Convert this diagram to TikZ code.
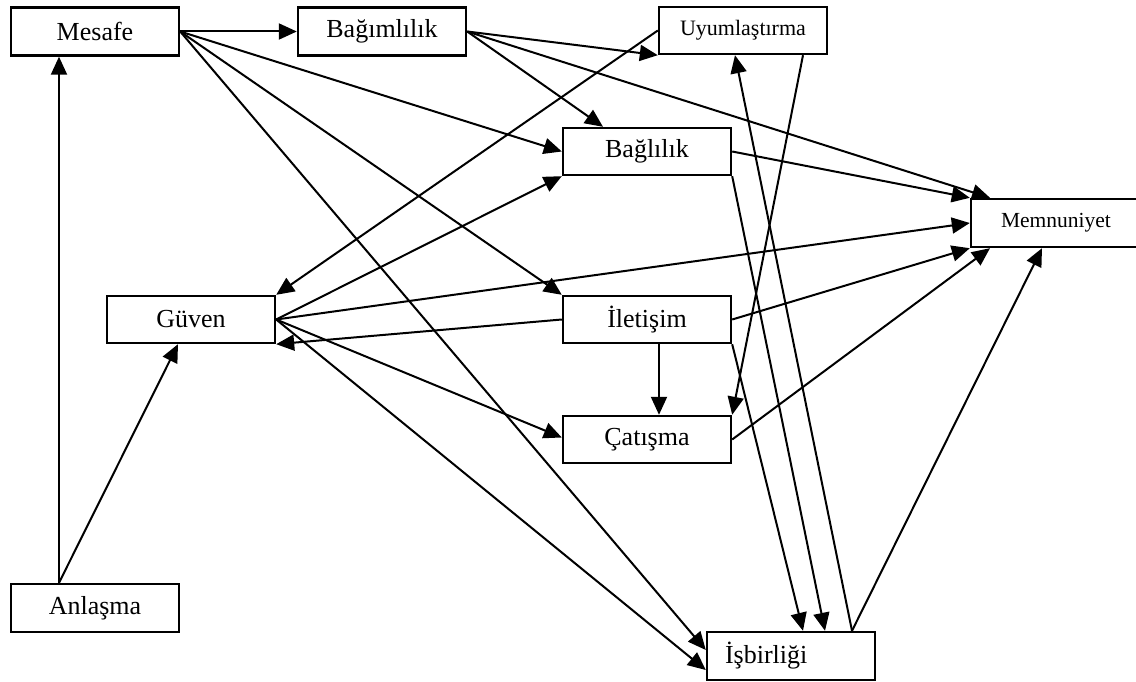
\documentclass[tikz,border=0pt]{standalone}
\usepackage{fontspec}
\setmainfont{Liberation Serif}
\usetikzlibrary{arrows.meta}
\begin{document}
\begin{tikzpicture}[x=1pt,y=-1pt,
  box/.style={draw, line width=2.4pt, inner sep=0pt, minimum width=168pt, minimum height=48pt,
    font=\fontsize{26}{30}\selectfont},
  smallbox/.style={box, font=\fontsize{22}{26}\selectfont},
  link/.style={line width=2pt, -{Triangle[length=18pt,width=16pt]}}
]
\useasboundingbox (0,0) rectangle (1136,682);

% concepts
\node[box] (mesafe)     at (95,31.5)   {Mesafe};
\node[box] (bagimlilik) at (382,31.5)  {Bağımlılık};
\node[smallbox, minimum height=47pt] (uyum) at (743,30.5) {Uyumlaştırma};
\node[box, minimum height=47pt] (baglilik) at (647,151.5) {Bağlılık};
\node[smallbox, minimum width=170pt, font=\fontsize{21.5}{26}\selectfont] (memnun) at (1056,223) {Memnuniyet};
\node[box, minimum height=47pt] (guven)    at (191,319.5) {Güven};
\node[box, minimum height=47pt] (iletisim) at (647,319.5) {İletişim};
\node[box, minimum height=47pt] (catisma)  at (647,439.5) {Çatışma};
\node[box] (anlasma)    at (95,608)    {Anlaşma};
\node[box, inner xsep=18pt, text width=132pt, align=left] (isbirligi) at (791,656) {İşbirliği};

% shared start points
\coordinate (anl) at ([xshift=-36pt]anlasma.north);
\coordinate (isb) at ([xshift=61pt]isbirligi.north);

% from Anlaşma
\draw[link] (anl) -- ([xshift=-36pt]mesafe.south);
\draw[link] (anl) -- ([xshift=-13pt]guven.south);

% from Mesafe
\draw[link] (mesafe.east) -- (bagimlilik.west);
\draw[link] (mesafe.east) -- (baglilik.west);
\draw[link] (mesafe.east) -- (iletisim.north west);
\draw[link] (mesafe.east) -- ([yshift=6pt]isbirligi.west);

% from Bağımlılık
\draw[link] (bagimlilik.east) -- (uyum.south west);
\draw[link] (bagimlilik.east) -- ([xshift=-44pt]baglilik.north);
\draw[link] (bagimlilik.east) -- ([xshift=-66pt]memnun.north);

% from Uyumlaştırma
\draw[link] (uyum.west) -- (guven.north east);
\draw[link] ([xshift=60pt]uyum.south) -- (catisma.north east);

% from Bağlılık
\draw[link] (baglilik.east) -- (memnun.north west);
\draw[link] (baglilik.south east) -- ([xshift=34pt]isbirligi.north);

% from Güven
\draw[link] (guven.east) -- (baglilik.south west);
\draw[link] (guven.east) -- (memnun.west);
\draw[link] (guven.east) -- ([yshift=2pt]catisma.west);
\draw[link] (guven.east) -- ([yshift=-14pt]isbirligi.west);

% from İletişim
\draw[link] (iletisim.west) -- (guven.south east);
\draw[link] ([xshift=12pt]iletisim.south) -- ([xshift=12pt]catisma.north);
\draw[link] (iletisim.east) -- (memnun.south west);
\draw[link] (iletisim.south east) -- ([xshift=12pt]isbirligi.north);

% from Çatışma
\draw[link] (catisma.east) -- ([xshift=-66pt]memnun.south);

% from İşbirliği
\draw[link] (isb) -- ([xshift=-8pt]uyum.south);
\draw[link] (isb) -- ([xshift=-14pt]memnun.south);
\end{tikzpicture}
\end{document}
